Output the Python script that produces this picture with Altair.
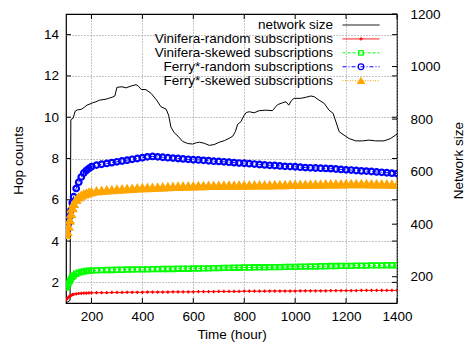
import altair as alt
import pandas as pd

FONT = "Liberation Sans"
FS = 13.5
W, H = 331, 289
GRID = "#8c8c8c"

# ---- series names / styles -------------------------------------------------
SERIES = [
    "Vinifera-random subscriptions",
    "Vinifera-skewed subscriptions",
    "Ferry*-random subscriptions",
    "Ferry*-skewed subscriptions",
]
KEY_ORDER = ["network size"] + SERIES
KEY_ROWS = [0, 1, 2, 3, 4]
COLORS = ["#000000", "#ff0000", "#00ff00", "#0000ff", "#ffa500"]
DASHES = [[1, 0], [1, 0], [3, 2], [4, 2, 1, 2], [1, 1.5]]
SHAPES = ["circle", "M-1,0L1,0M0,-1L0,1", "square", "circle", "triangle-up"]
FILLS = ["transparent", "transparent", "transparent", "transparent", "#ffa500"]
SIZES = [0, 42, 36, 56, 32]
MARKER_WIDTHS = [1, 2.6, 2.4, 3.0, 1]

# ---- axis ticks ------------------------------------------------------------
X_TICKS = [200, 400, 600, 800, 1000, 1200, 1400]
HOP_TICKS = [2, 4, 6, 8, 10, 12, 14]
NET_TICKS = [200, 400, 600, 800, 1000, 1200]

# ---- hop counts (hours) ----------------------------------------------------
TIME = [100, 105, 110, 115, 120, 125, 130, 140, 150, 160, 170, 180, 190, 200,
        220, 240, 260, 280, 300, 320, 340, 360, 380, 400,
        420, 440, 460, 480, 500, 520, 540, 560, 580, 600,
        620, 640, 660, 680, 700, 720, 740, 760, 780, 800,
        820, 840, 860, 880, 900, 920, 940, 960, 980, 1000,
        1020, 1040, 1060, 1080, 1100, 1120, 1140, 1160, 1180, 1200,
        1220, 1240, 1260, 1280, 1300, 1320, 1340, 1360, 1380, 1400]

VINIFERA_RANDOM = [1.15, 1.22, 1.28, 1.33, 1.37, 1.40, 1.42, 1.44, 1.46, 1.47, 1.48, 1.48, 1.49, 1.49,
                   1.50, 1.50, 1.50, 1.51, 1.51, 1.51, 1.52, 1.52, 1.52, 1.52,
                   1.53, 1.53, 1.53, 1.53, 1.53, 1.54, 1.54, 1.54, 1.54, 1.54,
                   1.55, 1.55, 1.55, 1.55, 1.56, 1.56, 1.56, 1.56, 1.56, 1.57,
                   1.57, 1.57, 1.57, 1.57, 1.58, 1.58, 1.58, 1.58, 1.58, 1.58,
                   1.59, 1.59, 1.59, 1.59, 1.59, 1.59, 1.60, 1.60, 1.60, 1.60,
                   1.60, 1.60, 1.61, 1.61, 1.61, 1.61, 1.61, 1.61, 1.61, 1.61]

VINIFERA_SKEWED = [1.75, 1.85, 1.95, 2.07, 2.18, 2.27, 2.33, 2.42, 2.47, 2.50, 2.53, 2.55, 2.56, 2.57,
                   2.58, 2.59, 2.60, 2.60, 2.61, 2.61, 2.62, 2.62, 2.63, 2.63,
                   2.63, 2.64, 2.64, 2.65, 2.65, 2.65, 2.66, 2.66, 2.66, 2.67,
                   2.67, 2.68, 2.68, 2.69, 2.69, 2.70, 2.70, 2.71, 2.71, 2.72,
                   2.72, 2.73, 2.73, 2.73, 2.74, 2.74, 2.74, 2.75, 2.75, 2.75,
                   2.76, 2.76, 2.77, 2.77, 2.78, 2.78, 2.79, 2.79, 2.80, 2.80,
                   2.80, 2.81, 2.81, 2.81, 2.82, 2.82, 2.82, 2.83, 2.83, 2.83]

FERRY_RANDOM = [4.30, 4.55, 4.85, 5.20, 5.50, 5.85, 6.15, 6.55, 6.85, 7.10, 7.30, 7.42, 7.52, 7.60,
                7.68, 7.72, 7.76, 7.80, 7.84, 7.88, 7.92, 7.96, 8.00, 8.04,
                8.08, 8.10, 8.08, 8.06, 8.04, 8.02, 8.00, 7.98, 7.96, 7.94,
                7.93, 7.91, 7.89, 7.87, 7.86, 7.84, 7.82, 7.80, 7.78, 7.77,
                7.75, 7.73, 7.71, 7.69, 7.67, 7.66, 7.64, 7.62, 7.61, 7.60,
                7.58, 7.56, 7.55, 7.54, 7.53, 7.52, 7.51, 7.49, 7.47, 7.45,
                7.44, 7.42, 7.40, 7.39, 7.37, 7.35, 7.33, 7.31, 7.29, 7.27]

FERRY_SKEWED = [4.30, 4.45, 4.70, 5.00, 5.30, 5.60, 5.80, 6.00, 6.12, 6.20, 6.26, 6.30, 6.34, 6.37,
                6.41, 6.43, 6.45, 6.47, 6.49, 6.50, 6.52, 6.53, 6.55, 6.56,
                6.57, 6.58, 6.59, 6.60, 6.61, 6.62, 6.63, 6.64, 6.65, 6.65,
                6.66, 6.66, 6.67, 6.67, 6.67, 6.68, 6.68, 6.68, 6.69, 6.69,
                6.69, 6.70, 6.70, 6.70, 6.70, 6.71, 6.71, 6.71, 6.72, 6.72,
                6.72, 6.72, 6.73, 6.73, 6.73, 6.74, 6.74, 6.75, 6.75, 6.76,
                6.76, 6.76, 6.76, 6.76, 6.75, 6.75, 6.74, 6.74, 6.73, 6.72]

# ---- network size (right axis) ---------------------------------------------
NET_TIME = [100, 116, 119, 128, 136, 145, 160, 172, 182, 195,
            205, 218, 231, 245, 258, 270, 281, 292, 300, 320,
            336, 356, 375, 385, 395, 414, 434, 454, 473, 493,
            503, 512, 525, 540, 558, 578, 597, 612, 624, 643,
            663, 682, 702, 722, 741, 755, 765, 774, 787, 798,
            808, 820, 839, 859, 885, 911, 922, 931, 950, 964,
            975, 985, 996, 1022, 1042, 1062, 1075, 1094, 1114, 1133,
            1149, 1160, 1173, 1192, 1212, 1238, 1264, 1290, 1316, 1349,
            1375, 1394, 1400]
NET_SIZE = [100, 110, 798, 803, 830, 835, 837, 845, 853, 858,
            862, 866, 872, 874, 876, 880, 883, 888, 921, 923,
            919, 926, 931, 925, 913, 912, 898, 875, 847, 838,
            815, 770, 748, 735, 715, 707, 705, 710, 712, 708,
            700, 703, 712, 718, 727, 735, 752, 780, 790, 812,
            825, 828, 824, 832, 834, 832, 845, 855, 862, 866,
            853, 870, 879, 879, 883, 888, 885, 872, 860, 834,
            822, 790, 752, 739, 726, 717, 717, 720, 717, 717,
            726, 739, 742]

# ---- tables ------------------------------------------------------------------
hop_rows = []
for name, vals in zip(SERIES, [VINIFERA_RANDOM, VINIFERA_SKEWED, FERRY_RANDOM, FERRY_SKEWED]):
    for t, v in zip(TIME, vals):
        hop_rows.append({"time": t, "value": v, "series": name})
hop_df = pd.DataFrame(hop_rows)
net_df = pd.DataFrame({"time": NET_TIME, "size": NET_SIZE})
key_df = pd.DataFrame({"series": KEY_ORDER, "row": KEY_ROWS})

# ---- shared scales -----------------------------------------------------------
color_scale = alt.Scale(domain=KEY_ORDER, range=COLORS)
dash_scale = alt.Scale(domain=KEY_ORDER, range=DASHES)
shape_scale = alt.Scale(domain=KEY_ORDER, range=SHAPES)
fill_scale = alt.Scale(domain=KEY_ORDER, range=FILLS)
size_scale = alt.Scale(domain=KEY_ORDER, range=SIZES)
width_scale = alt.Scale(domain=KEY_ORDER, range=MARKER_WIDTHS)

x_enc = alt.X(
    "time:Q",
    scale=alt.Scale(domain=[100, 1400], nice=False, zero=False),
    axis=alt.Axis(values=X_TICKS, format="d", title="Time (hour)", grid=True,
                  gridDash=[1, 2], gridColor=GRID, labelPadding=6, titlePadding=5,
                  labelFlush=False, labelOverlap=False),
)
y_hop = alt.Y(
    "value:Q",
    scale=alt.Scale(domain=[1, 15], nice=False, zero=False),
    axis=alt.Axis(orient="left", values=HOP_TICKS, format="d", title="Hop counts",
                  grid=True, gridDash=[1, 2], gridColor=GRID, labelPadding=7.5,
                  labelOverlap=False, titleX=-48, titleY=146, titleAngle=270,
                  titleAlign="center", titleBaseline="middle"),
)
y_net = alt.Y(
    "size:Q",
    scale=alt.Scale(domain=[100, 1200], nice=False, zero=False),
    axis=alt.Axis(orient="right", values=NET_TICKS, format="d", title="Network size",
                  grid=False, labelPadding=13, labelOverlap=False, titleX=61,
                  titleY=146, titleAngle=270, titleAlign="center",
                  titleBaseline="middle"),
)

# ---- hop-count layers (left axis) ---------------------------------------------
hop_lines = alt.Chart(hop_df).mark_line(strokeWidth=1, clip=True).encode(
    x=x_enc, y=y_hop,
    color=alt.Color("series:N", scale=color_scale, legend=None),
    strokeDash=alt.StrokeDash("series:N", scale=dash_scale, legend=None),
    detail="series:N",
)
hop_points = alt.Chart(hop_df).mark_point(opacity=1, clip=True).encode(
    x=x_enc, y=y_hop,
    shape=alt.Shape("series:N", scale=shape_scale, legend=None),
    stroke=alt.Stroke("series:N", scale=color_scale, legend=None),
    fill=alt.Fill("series:N", scale=fill_scale, legend=None),
    size=alt.Size("series:N", scale=size_scale, legend=None),
    strokeWidth=alt.StrokeWidth("series:N", scale=width_scale, legend=None),
)

xt_df = pd.DataFrame({"time": X_TICKS})
yt_df = pd.DataFrame({"value": HOP_TICKS})
tick_bottom = alt.Chart(xt_df).mark_rule(color="black").encode(
    x="time:Q", y=alt.value(H), y2=alt.value(H - 5))
tick_top = alt.Chart(xt_df).mark_rule(color="black").encode(
    x="time:Q", y=alt.value(0), y2=alt.value(5))
tick_left = alt.Chart(yt_df).mark_rule(color="black").encode(
    y="value:Q", x=alt.value(0), x2=alt.value(5))
tick_left_mirror = alt.Chart(yt_df).mark_rule(color="black").encode(
    y="value:Q", x=alt.value(W - 5), x2=alt.value(W))

left_group = alt.layer(tick_bottom, tick_top, tick_left, tick_left_mirror,
                       hop_lines, hop_points)

# ---- network size layer (right axis) -----------------------------------------
net_line = alt.Chart(net_df).mark_line(color="black", strokeWidth=1, clip=True).encode(
    x=x_enc, y=y_net)
nt_df = pd.DataFrame({"size": NET_TICKS})
tick_right = alt.Chart(nt_df).mark_rule(color="black").encode(
    y="size:Q", x=alt.value(W - 5), x2=alt.value(W))
right_group = alt.layer(net_line, tick_right)

# ---- key (top right, inside the frame) ----------------------------------------
key_y = alt.Y("row:Q", scale=alt.Scale(domain=[0, 4], range=[11, 66.7]), axis=None)
key_text = alt.Chart(key_df).mark_text(
    align="right", baseline="middle", font=FONT, fontSize=FS, color="black"
).encode(x=alt.value(267), y=key_y, text="series:N")
key_line = alt.Chart(key_df).mark_rule(strokeWidth=1).encode(
    x=alt.value(276.5), x2=alt.value(313.5), y=key_y,
    color=alt.Color("series:N", scale=color_scale, legend=None),
    strokeDash=alt.StrokeDash("series:N", scale=dash_scale, legend=None),
)
key_points = alt.Chart(key_df).transform_filter(
    alt.datum.row > 0
).mark_point(strokeWidth=1.2, opacity=1).encode(
    x=alt.value(295), y=key_y,
    shape=alt.Shape("series:N", scale=shape_scale, legend=None),
    stroke=alt.Stroke("series:N", scale=color_scale, legend=None),
    fill=alt.Fill("series:N", scale=fill_scale, legend=None),
    size=alt.Size("series:N", scale=alt.Scale(domain=KEY_ORDER, range=[0, 36, 30, 36, 32]),
                  legend=None),
)
key_group = alt.layer(key_line, key_points, key_text)

chart = (
    alt.layer(right_group, left_group, key_group)
    .resolve_scale(y="independent")
    .properties(
        width=W, height=H,
        autosize=alt.AutoSizeParams(type="none"),
        padding={"left": 66, "top": 14, "right": 69, "bottom": 44},
        background="white",
    )
    .configure_view(stroke="black", strokeWidth=1.2)
    .configure_axis(
        labelFont=FONT, titleFont=FONT, labelFontSize=FS, titleFontSize=FS,
        labelColor="black", titleColor="black", titleFontWeight="normal",
        domain=False, ticks=False, tickSize=0,
    )
)

chart.save("out.html", embed_options={"renderer": "svg", "actions": False})
